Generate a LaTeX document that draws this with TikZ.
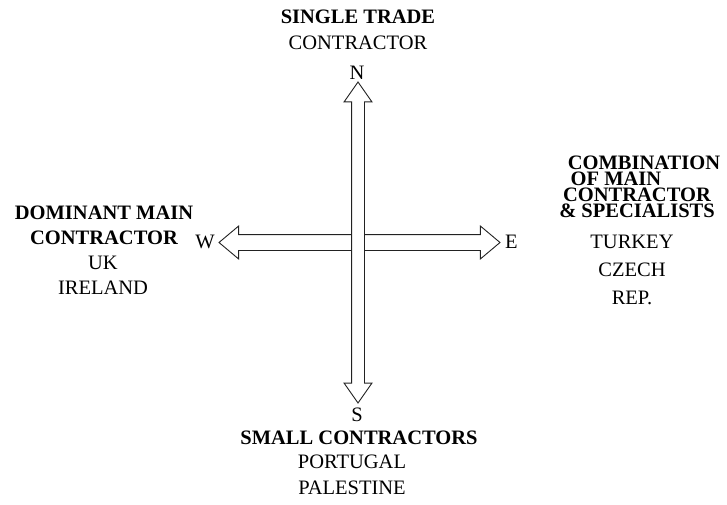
\documentclass[tikz,border=0pt]{standalone}
\usepackage{fontspec}
\setmainfont{Liberation Serif}
\usetikzlibrary{shapes.arrows}
\definecolor{arrowline}{HTML}{222222}

\begin{document}
\begin{tikzpicture}[
  x=1pt, y=-1pt,
  compassarrow/.style={
    double arrow,
    draw=arrowline,
    fill=white,
    line width=0.9pt,
    inner xsep=0pt
  },
  compasslabel/.style={
    font=\fontsize{20.5}{26}\selectfont,
    inner sep=0pt,
    anchor=base
  },
  groupname/.style={
    font=\fontsize{20.5}{25}\selectfont\bfseries,
    align=center,
    inner sep=0pt,
    anchor=base
  },
  countrylist/.style={
    font=\fontsize{20.5}{26}\selectfont,
    align=center,
    inner sep=0pt,
    anchor=base
  }
]
  \useasboundingbox (0,0) rectangle (727,505);

  % --- Compass cross (vertical one lies on top) ---
  \node[compassarrow, minimum height=281pt, inner ysep=7.5pt,
        double arrow head extend=8.5pt, double arrow tip angle=80] (ew) at (359.5,242.5) {};
  \node[compassarrow, minimum height=321pt, inner ysep=6pt,
        double arrow head extend=7.5pt, double arrow tip angle=70,
        rotate=90] (ns) at (358,242.5) {};

  % --- Compass points ---
  \node[compasslabel] (north) at (357,79.5) {N};
  \node[compasslabel] (south) at (357,421) {S};
  \node[compasslabel] (west) at (205,248) {W};
  \node[compasslabel] (east) at (511.5,248) {E};

  % --- North: single trade ---
  \node[groupname] (ntitle) at (358,24) {SINGLE TRADE};
  \node[compasslabel] (nlist) at (358,50) {CONTRACTOR};

  % --- South: small contractors ---
  \node[groupname] (stitle) at (359,444) {SMALL CONTRACTORS};
  \node[countrylist] (slist) at (352,494) {PORTUGAL\\PALESTINE};

  % --- West: dominant main contractor ---
  \node[groupname] (wtitle) at (104,244.5) {DOMINANT MAIN\\CONTRACTOR};
  \node[countrylist, font=\fontsize{20.5}{25}\selectfont] (wlist) at (103,294) {UK\\IRELAND};

  % --- East: combination of main contractor & specialists ---
  \node[groupname] (etitle1) at (644,169) {COMBINATION};
  \node[groupname] (etitle2) at (616,185) {OF MAIN};
  \node[groupname] (etitle3) at (637,201) {CONTRACTOR};
  \node[groupname] (etitle4) at (637,217) {\& SPECIALISTS};
  \node[countrylist, font=\fontsize{20.5}{28}\selectfont] (elist) at (632,304) {TURKEY\\CZECH\\REP.};

\end{tikzpicture}
\end{document}
